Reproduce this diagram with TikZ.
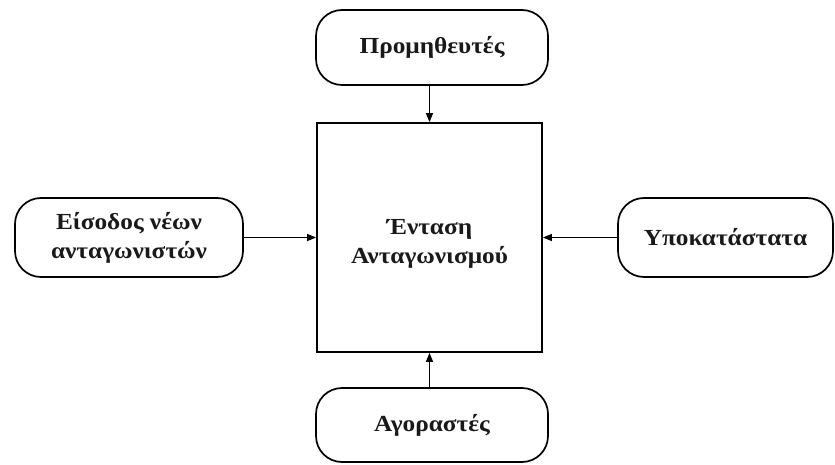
\documentclass[tikz,border=0pt]{standalone}
\usepackage{fontspec}
\setmainfont{Liberation Serif}[FakeStretch=1.1]
\usetikzlibrary{arrows.meta}
\begin{document}
\begin{tikzpicture}[x=1pt,y=-1pt,
  txt/.style={align=center, font=\bfseries\fontsize{23}{29}\selectfont, text=black!90},
  rbox/.style={txt, draw, line width=1.7pt, rounded corners=26pt, inner sep=0pt},
  sqbox/.style={draw, line width=1.7pt, inner sep=0pt},
  arr/.style={line width=1.3pt, -{Triangle[length=9pt,width=7pt]}}]
\useasboundingbox (0,0) rectangle (835,465);
\node[rbox, minimum width=232pt, minimum height=75pt] (sup) at (432,47.5) {Προμηθευτές};
\node[sqbox, minimum width=225pt, minimum height=229pt] (sq) at (429.5,237.5) {};
\node[txt] (sqtxt) at ([yshift=-6pt]sq.center) {Ένταση\\Ανταγωνισμού};
\node[rbox, minimum width=228pt, minimum height=79pt] (new) at (129,237.5) {Είσοδος νέων\\ανταγωνιστών};
\node[rbox, minimum width=215pt, minimum height=79pt] (subst) at (725.5,237.5) {Υποκατάστατα};
\node[rbox, minimum width=232pt, minimum height=74pt] (buy) at (432,425) {Αγοραστές};
\draw[arr] (sup.south -| sq.north) -- (sq.north);
\draw[arr] (new.east) -- (sq.west);
\draw[arr] (subst.west) -- (sq.east);
\draw[arr] (buy.north -| sq.south) -- (sq.south);
\end{tikzpicture}
\end{document}
